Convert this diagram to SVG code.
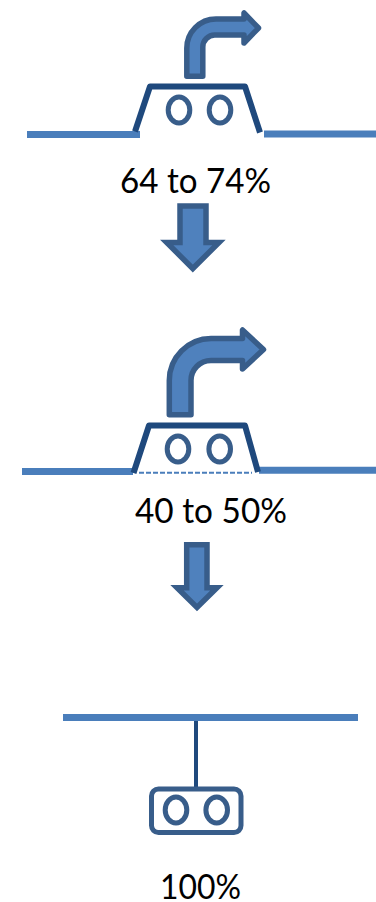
<svg xmlns="http://www.w3.org/2000/svg" width="376" height="902" viewBox="0 0 376 902">
<style>
.bus{fill:none;stroke:#4A7EBB;stroke-width:7}
.body{fill:none;stroke:#1F497D;stroke-width:6;stroke-linejoin:round}
.wheel{fill:none;stroke:#385D8A;stroke-width:5}
.arrow{fill:#4F81BD;stroke:#385D8A;stroke-width:5.500;stroke-linejoin:round}
.down{fill:#4F81BD;stroke:#385D8A;stroke-width:5.500;stroke-linejoin:miter;stroke-miterlimit:10}
.label{font-family:"Lato","Liberation Sans",sans-serif;font-size:34px;fill:#000}
</style>
<rect width="376" height="902" fill="#fff"/>
<g id="connectors">
<path class="down" d="M180 206H206V242.500H219L192.800 268.500L166.700 242.500H180Z"/>
<path class="down" d="M186.700 544.700H207V587.700H217L197 607.500L177 587.700H186.700Z"/>
<path d="M196 721V789" fill="none" stroke="#1F497D" stroke-width="4"/>
</g>
<g id="stage-1">
<path class="bus" d="M27 134.500H140"/>
<path class="bus" d="M264 134H376"/>
<path class="body" d="M135 131.500L150 86.500H245L260 132.500"/>
<ellipse class="wheel" cx="179" cy="110" rx="10.800" ry="13"/>
<ellipse class="wheel" cx="220" cy="110" rx="10.800" ry="13"/>
<path class="arrow" d="M186.800 76.300H202.800V47A12 12 0 0 1 215 35H244V43L258.500 28L244 13V19H216A29.200 29.200 0 0 0 186.800 48.500Z"/>
<text class="label" x="120" y="193" textLength="151" lengthAdjust="spacingAndGlyphs">64 to 74%</text>
</g>
<g id="stage-2">
<path class="bus" d="M22 471.500H133"/>
<path class="bus" d="M259 470.300H376"/>
<path d="M139 472.700H252" fill="none" stroke="#4A7EBB" stroke-width="2" stroke-dasharray="5 2"/>
<path class="body" d="M133.500 473L149 425.500H245L258 472"/>
<ellipse class="wheel" cx="178" cy="449" rx="10.800" ry="13"/>
<ellipse class="wheel" cx="219.700" cy="449" rx="10.800" ry="13"/>
<path class="arrow" d="M169.300 414.800H191V381A20 20 0 0 1 211 360.500H242.500V369L263.500 349.500L242.500 330V338.500H211A42 42 0 0 0 169.300 380.500Z"/>
<text class="label" x="135" y="523" textLength="152" lengthAdjust="spacingAndGlyphs">40 to 50%</text>
</g>
<g id="stage-3">
<path class="bus" d="M63 717.500H358"/>
<rect x="151.500" y="789" width="89.500" height="43.500" rx="7" fill="none" stroke="#385D8A" stroke-width="5"/>
<ellipse class="wheel" cx="176" cy="810" rx="10.800" ry="13"/>
<ellipse class="wheel" cx="216.700" cy="810" rx="10.800" ry="13"/>
<text class="label" x="160" y="899" textLength="81" lengthAdjust="spacingAndGlyphs">100%</text>
</g>
</svg>
